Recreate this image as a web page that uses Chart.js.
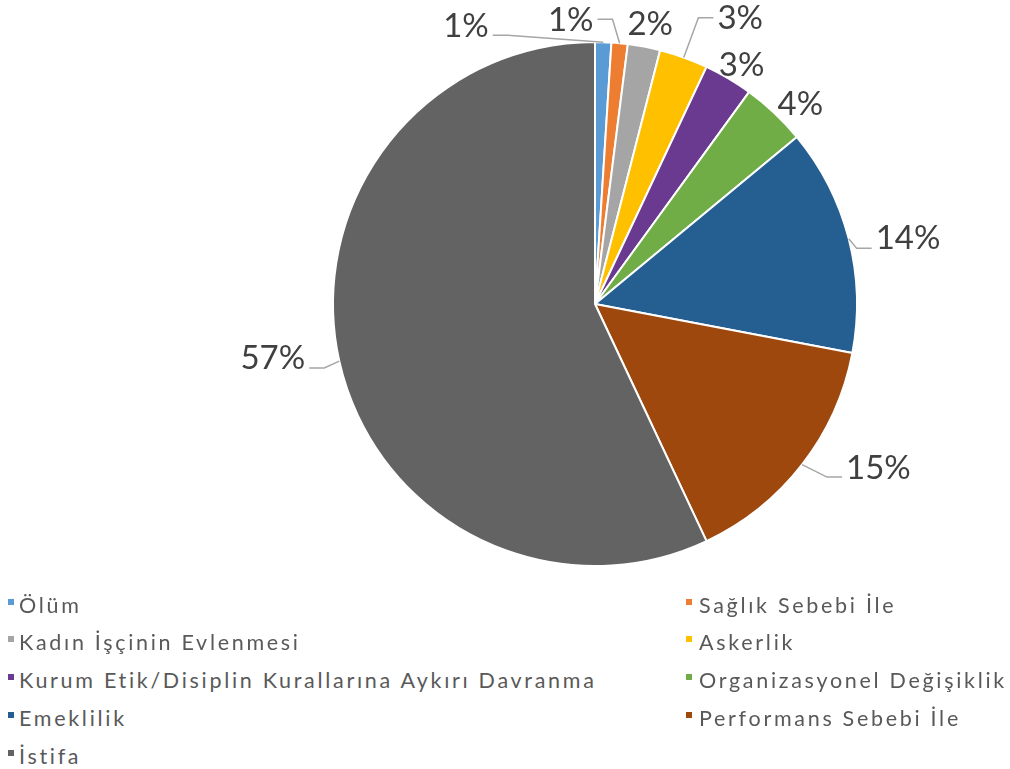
<!DOCTYPE html>
<html>
<head>
<meta charset="utf-8">
<script src="https://cdn.jsdelivr.net/npm/chart.js@4.4.1/dist/chart.umd.min.js"></script>
<style>
  html, body { margin: 0; padding: 0; background: #fff; }
  #wrap { position: relative; width: 1010px; height: 769px; overflow: hidden; }
  #pie { position: absolute; left: 0; top: 0; }
  #legend { position: absolute; left: 0; top: 0; width: 1010px; font-family: Lato, sans-serif;
            font-size: 21.5px; color: #595959; letter-spacing: 2.7px; }
  .item { position: absolute; height: 38px; line-height: 38px; white-space: nowrap; }
  .box { position: absolute; left: 0; top: 13px; width: 6px; height: 6px; }
</style>
</head>
<body>
<div id="wrap">
  <canvas id="pie" width="1010" height="590"></canvas>
  <div id="legend"></div>
</div>
<script>
const categories = [
  'Ölüm',
  'Sağlık Sebebi İle',
  'Kadın İşçinin Evlenmesi',
  'Askerlik',
  'Kurum Etik/Disiplin Kurallarına Aykırı Davranma',
  'Organizasyonel Değişiklik',
  'Emeklilik',
  'Performans Sebebi İle',
  'İstifa'
];
const shares = [1, 1, 2, 3, 3, 4, 14, 15, 57];
const sliceColors = ['#5B9BD5', '#ED7D31', '#A5A5A5', '#FFC000', '#6A3A91', '#70AD47', '#255E91', '#9E480E', '#636363'];

// label nudges from the default spot just outside each slice, and leader attach offset (null = no leader)
const labelShift = [[-138, 6], [-51, -1], [2, -1], [49, -18], [2, 6], [11, 7], [38, 5], [59, -10], [-45, -8]];
const leaderDy = [9, -1, null, -1, null, null, 10, 9, 10];

const outsideLabels = {
  id: 'outsideLabels',
  afterDatasetsDraw(chart) {
    const ctx = chart.ctx;
    const meta = chart.getDatasetMeta(0);
    ctx.save();
    ctx.font = '33px Lato';
    ctx.textAlign = 'center';
    ctx.textBaseline = 'middle';
    ctx.strokeStyle = '#A6A6A6';
    ctx.lineWidth = 1.5;
    ctx.fillStyle = '#404040';
    meta.data.forEach((arc, i) => {
      const p = arc.getProps(['x', 'y', 'startAngle', 'endAngle', 'outerRadius'], true);
      const mid = (p.startAngle + p.endAngle) / 2;
      const lx = p.x + Math.cos(mid) * (p.outerRadius + 22) + labelShift[i][0];
      const ly = p.y + Math.sin(mid) * (p.outerRadius + 22) + labelShift[i][1];
      const text = shares[i] + '%';
      if (leaderDy[i] !== null) {
        const ax = p.x + Math.cos(mid) * p.outerRadius;
        const ay = p.y + Math.sin(mid) * p.outerRadius;
        const w = ctx.measureText(text).width;
        const dir = ax > lx ? 1 : -1;
        const sx = lx + dir * (w / 2 + 4);
        const sy = ly + leaderDy[i];
        const hx = sx + dir * Math.min(15, Math.abs(ax - sx));
        ctx.beginPath();
        ctx.moveTo(sx, sy);
        ctx.lineTo(hx, sy);
        ctx.lineTo(ax, ay);
        ctx.stroke();
      }
      ctx.fillText(text, lx, ly);
    });
    ctx.restore();
  }
};

new Chart(document.getElementById('pie').getContext('2d'), {
  type: 'pie',
  data: {
    labels: categories,
    datasets: [{
      data: shares,
      backgroundColor: sliceColors,
      borderColor: '#ffffff',
      borderWidth: 2
    }]
  },
  options: {
    responsive: false,
    animation: false,
    layout: { padding: { top: 41, bottom: 23, left: 332, right: 152 } },
    plugins: {
      legend: { display: false },
      tooltip: { enabled: false }
    }
  },
  plugins: [outsideLabels]
});

// two-column legend under the pie
const legend = document.getElementById('legend');
categories.forEach((name, i) => {
  const col = i % 2;
  const row = Math.floor(i / 2);
  const item = document.createElement('div');
  item.className = 'item';
  item.style.left = (col === 0 ? 8 : 686) + 'px';
  item.style.top = (585.5 + row * 37.75) + 'px';
  item.style.paddingLeft = (col === 0 ? 11 : 13) + 'px';
  const box = document.createElement('span');
  box.className = 'box';
  box.style.background = sliceColors[i];
  item.appendChild(box);
  item.appendChild(document.createTextNode(name));
  legend.appendChild(item);
});
</script>
</body>
</html>
